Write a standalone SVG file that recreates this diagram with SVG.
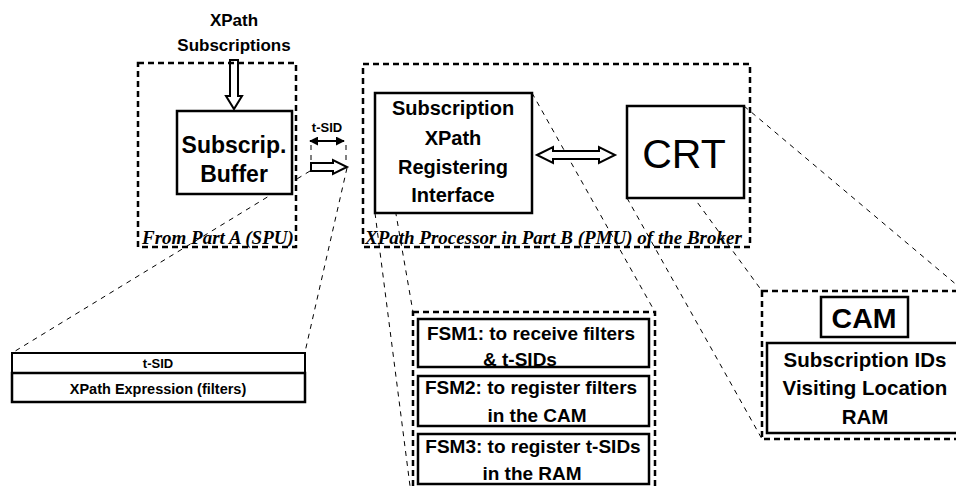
<svg xmlns="http://www.w3.org/2000/svg" width="956" height="486" viewBox="0 0 956 486">
<defs>
<style>
.box{fill:#fff;stroke:#000;stroke-width:2.5}
.dbox{fill:none;stroke:#000;stroke-width:2.5;stroke-dasharray:6 4}
.zl{fill:none;stroke:#000;stroke-width:1;stroke-dasharray:5 5}
.ha{fill:#fff;stroke:#000;stroke-width:2;stroke-linejoin:miter}
.t{font-family:"Liberation Sans",Arial,sans-serif;font-weight:bold;text-anchor:middle;fill:#000}
.ti{font-family:"Liberation Serif","Times New Roman",serif;font-weight:bold;font-style:italic;font-size:19px;fill:#000}
</style>
<marker id="ah" viewBox="0 0 10 10" refX="9" refY="5" markerWidth="5" markerHeight="5" orient="auto-start-reverse" markerUnits="strokeWidth">
<path d="M0,0 L10,5 L0,10 z" fill="#000"/>
</marker>
</defs>
<rect width="956" height="486" fill="#fff"/>

<g id="connectors">
<line class="zl" x1="310" y1="171" x2="12" y2="353"/>
<line class="zl" x1="347" y1="168" x2="305" y2="352"/>
<line class="zl" x1="375" y1="93" x2="413" y2="312"/>
<line class="zl" x1="532" y1="93" x2="655" y2="312"/>
<line class="zl" x1="375" y1="213" x2="410" y2="486"/>
<line class="zl" x1="627" y1="106" x2="762" y2="291"/>
<line class="zl" x1="627" y1="198" x2="762" y2="439"/>
<line class="zl" x1="744" y1="106" x2="958" y2="286"/>
<line class="zl" x1="311" y1="145" x2="311" y2="164"/>
<line class="zl" x1="346" y1="145" x2="346" y2="164"/>
<line x1="310" y1="141" x2="344" y2="141" stroke="#000" stroke-width="1.8" marker-start="url(#ah)" marker-end="url(#ah)"/>
<polygon class="ha" points="230,60 238,60 238,96 242,96 234,109 226,96 230,96"/>
<polygon class="ha" points="311,163 333,163 333,160 347,167 333,174 333,171 311,171"/>
<polygon class="ha" points="537,155 553,147 553,151 599,151 599,147 615,155 599,163 599,159 553,159 553,163"/>
</g>

<g id="spu">
<rect class="dbox" x="138" y="63" width="158" height="184"/>
<text class="ti" x="142" y="244">From Part A (SPU)</text>
</g>
<g id="xpath-subscriptions">
<text class="t" x="234" y="26" font-size="17">XPath</text>
<text class="t" x="234" y="51" font-size="17">Subscriptions</text>
</g>
<g id="buffer">
<rect class="box" x="177" y="111" width="115" height="83"/>
<text class="t" x="234" y="153" font-size="23">Subscrip.</text>
<text class="t" x="234" y="182" font-size="23">Buffer</text>
</g>
<g id="tsid-label">
<text class="t" x="327" y="132" font-size="13">t-SID</text>
</g>
<g id="record">
<rect x="12" y="353" width="293" height="20" fill="#fff" stroke="#000" stroke-width="2"/>
<rect x="12" y="373" width="293" height="29" fill="#fff" stroke="#000" stroke-width="2.5"/>
<text class="t" x="158" y="368" font-size="13">t-SID</text>
<text class="t" x="158" y="394" font-size="14.5">XPath Expression (filters)</text>
</g>

<g id="pmu">
<rect class="dbox" x="363" y="64" width="387" height="183"/>
<text class="ti" x="365" y="244">XPath Processor in Part B (PMU) of the Broker</text>
</g>
<g id="interface">
<rect class="box" x="375" y="93" width="157" height="120"/>
<text class="t" x="453" y="115" font-size="20">Subscription</text>
<text class="t" x="453" y="145" font-size="20">XPath</text>
<text class="t" x="453" y="174" font-size="20">Registering</text>
<text class="t" x="453" y="202" font-size="20">Interface</text>
</g>
<g id="crt">
<rect class="box" x="627" y="106" width="117" height="92"/>
<text x="684" y="168" font-family="'Liberation Sans',Arial,sans-serif" font-size="41" text-anchor="middle">CRT</text>
</g>

<g id="fsm">
<rect class="dbox" x="413" y="312" width="242" height="190"/>
<rect class="box" x="418" y="319" width="231" height="48"/>
<text class="t" x="531" y="340" font-size="19">FSM1: to receive filters</text>
<text class="t" x="520" y="366" font-size="19">&amp; t-SIDs</text>
<rect class="box" x="418" y="376" width="231" height="50"/>
<text class="t" x="531" y="394" font-size="19">FSM2: to register filters</text>
<text class="t" x="537" y="422" font-size="19">in the CAM</text>
<rect class="box" x="418" y="434" width="231" height="50"/>
<text class="t" x="533" y="453" font-size="19">FSM3: to register t-SIDs</text>
<text class="t" x="532" y="480" font-size="19">in the RAM</text>
</g>

<g id="cam-ram">
<rect class="dbox" x="762" y="291" width="220" height="148"/>
<rect class="box" x="821" y="297" width="87" height="40"/>
<text class="t" x="864" y="328" font-size="28.5">CAM</text>
<rect class="box" x="767" y="343" width="210" height="90"/>
<text class="t" x="865" y="367" font-size="20.5">Subscription IDs</text>
<text class="t" x="865" y="395" font-size="20.5">Visiting Location</text>
<text class="t" x="865" y="424" font-size="20.5">RAM</text>
</g>
</svg>
